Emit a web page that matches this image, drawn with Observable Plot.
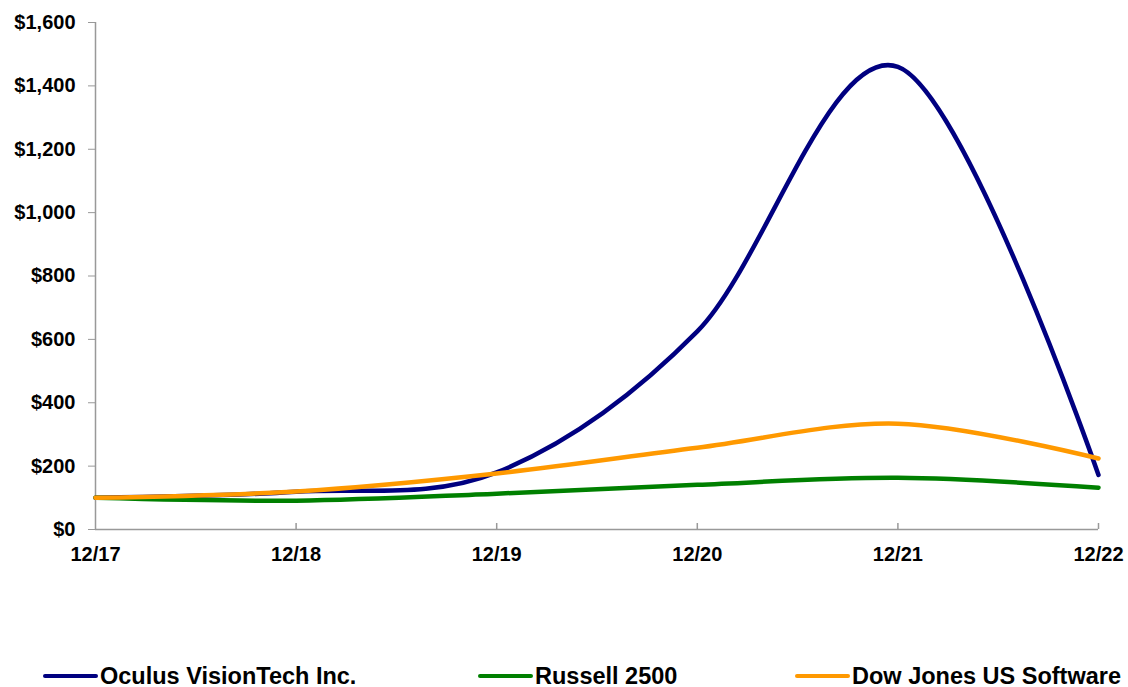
<!DOCTYPE html>
<html>
<head>
<meta charset="utf-8">
<script src="https://cdn.jsdelivr.net/npm/d3@7"></script>
<script src="https://cdn.jsdelivr.net/npm/@observablehq/plot@0.6"></script>
<style>
  body { margin: 0; background: #fff; font-family: "Liberation Sans", Arial, sans-serif; overflow: hidden; }
  #wrap { position: relative; width: 1128px; height: 687px; }
  .leg { position: absolute; top: 664px; height: 24px; line-height: 24px; display: flex; align-items: center; font-weight: bold; font-size: 23.5px; color: #000; white-space: nowrap; }
  .sw { display: inline-block; width: 55px; height: 4px; border-radius: 2px; margin-right: 2px; }
</style>
</head>
<body>
<div id="wrap"></div>
<script>
const periods = ["12/17", "12/18", "12/19", "12/20", "12/21", "12/22"];
const oculus = [100, 119, 180, 625, 1460, 172];
const russell = [100, 91, 113, 141, 163, 132];
const dowJones = [100, 120, 177, 258, 334, 224];
const seriesNames = ["Oculus VisionTech Inc.", "Russell 2500", "Dow Jones US Software"];
const seriesColors = ["#000080", "#008000", "#FF9900"];
const yTicks = [0, 200, 400, 600, 800, 1000, 1200, 1400, 1600];

const allSeries = [oculus, russell, dowJones];
const rows = allSeries.flatMap((vals, s) => vals.map((v, i) => ({series: seriesNames[s], i, v})));
const idx = periods.map((_, i) => i);
const axisColor = "#999";

const chart = Plot.plot({
  width: 1128,
  height: 600,
  marginLeft: 95,
  marginRight: 30,
  marginTop: 22,
  marginBottom: 71,
  style: {fontFamily: "'Liberation Sans', Arial, sans-serif", fontWeight: "bold", fontSize: "20px", color: "#000", background: "#fff"},
  x: {type: "linear", domain: [0, periods.length - 1]},
  y: {domain: [0, 1600]},
  color: {domain: seriesNames, range: seriesColors},
  marks: [
    Plot.axisY({ticks: yTicks, tickFormat: d => "$" + d3.format(",")(d), tickSize: 7, tickPadding: 13, stroke: axisColor, fontSize: 20, fontWeight: "bold", fill: "#000", label: null}),
    Plot.axisX({ticks: idx, tickFormat: i => periods[i], tickSize: 0, tickPadding: 17, fontSize: 20, fontWeight: "bold", fill: "#000", label: null}),
    Plot.ruleX(idx.slice(1), {x: d => d, y1: 0, y2: 19, stroke: axisColor, strokeWidth: 1.5}),
    Plot.ruleX([0], {stroke: axisColor, strokeWidth: 1.5}),
    Plot.ruleY([0], {stroke: axisColor, strokeWidth: 1.5}),
    Plot.line(rows, {x: "i", y: "v", z: "series", stroke: "series", strokeWidth: 4.5, curve: "cardinal", tension: 0})
  ]
});
const wrap = document.getElementById("wrap");
wrap.appendChild(chart);

const legendLeft = [43, 478, 795];
seriesNames.forEach((name, k) => {
  const d = document.createElement("div");
  d.className = "leg";
  d.style.left = legendLeft[k] + "px";
  const sw = document.createElement("span");
  sw.className = "sw";
  sw.style.background = seriesColors[k];
  d.appendChild(sw);
  d.appendChild(document.createTextNode(name));
  wrap.appendChild(d);
});
</script>
</body>
</html>
